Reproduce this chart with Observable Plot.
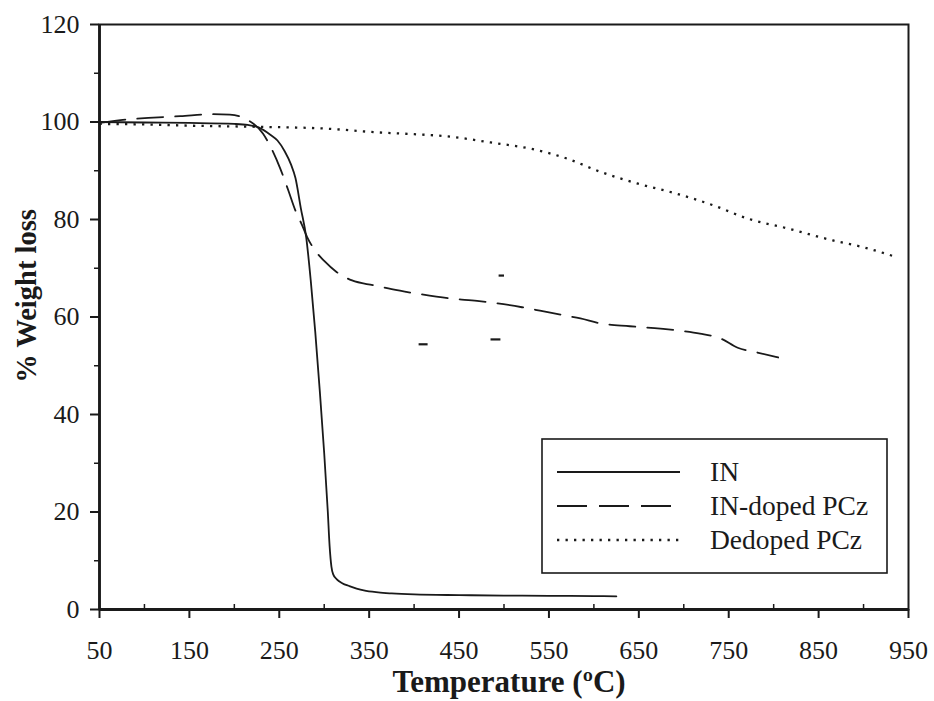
<!DOCTYPE html>
<html>
<head>
<meta charset="utf-8">
<script src="https://cdn.jsdelivr.net/npm/d3@7"></script>
<script src="https://cdn.jsdelivr.net/npm/@observablehq/plot@0.6"></script>
<style>
  html, body { margin: 0; padding: 0; background: white; }
  #chart { width: 934px; height: 701px; }
</style>
</head>
<body>
<div id="chart"></div>
<script>
// ---- Data ----
const inTemp = [50, 100, 150, 200, 215, 227, 240, 248, 256, 263, 268, 274, 280, 285, 290, 295, 300, 304, 306, 308, 310, 314, 320, 328, 336, 344, 360, 375, 400, 450, 500, 550, 600, 625];
const inWeight = [100, 99.9, 99.8, 99.6, 99.4, 98.9, 97.4, 96.2, 94, 91.3, 88.5, 82.3, 76.3, 67.5, 57, 45, 32, 20, 13, 8.8, 7.2, 6.2, 5.4, 4.8, 4.3, 3.9, 3.5, 3.3, 3.1, 2.95, 2.85, 2.8, 2.75, 2.7];

const dopedTemp = [50, 80, 110, 140, 175, 195, 215, 232, 242, 251, 260, 268, 275, 281, 290, 300, 314, 331, 355, 375, 403, 440, 470, 493, 520, 540, 565, 585, 607, 640, 674, 700, 718, 741, 760, 780, 805];
const dopedWeight = [99.8, 100.5, 100.9, 101.2, 101.6, 101.5, 100.4, 97.6, 94.3, 90.5, 86, 81.8, 79, 76.4, 73.6, 71.5, 69.2, 67.5, 66.5, 65.7, 64.8, 63.8, 63.3, 62.8, 62, 61.3, 60.4, 59.7, 58.7, 58.1, 57.6, 57.1, 56.6, 55.6, 53.7, 52.8, 51.7];

const dedopedTemp = [50, 100, 162, 230, 296, 366, 400, 440, 485, 530, 570, 607, 648, 688, 733, 771, 815, 866, 900, 938];
const dedopedWeight = [99.6, 99.5, 99.2, 99.0, 98.7, 97.8, 97.5, 97.0, 95.8, 94.5, 92.5, 89.8, 87.4, 85.5, 82.9, 80.2, 78.2, 75.7, 74.3, 72.2];

// small stray marks visible in the scan
const strayT1 = [494, 405, 485];
const strayT2 = [500, 415, 496];
const strayW = [68.5, 54.4, 55.4];

const seriesNames = ["IN", "IN-doped PCz", "Dedoped PCz"];
const xTicks = [50, 150, 250, 350, 450, 550, 650, 750, 850, 950];
const xMinorTicks = [100, 200, 300, 400, 500, 600, 700, 800, 900];
const yTicks = [0, 20, 40, 60, 80, 100, 120];
const yMinorTicks = [10, 30, 50, 70, 90, 110];
const xTitle = "Temperature (ºC)";
const yTitle = "% Weight loss";

// ---- Build tables ----
const toRows = (t, w) => t.map((d, i) => ({t: d, w: w[i]}));
const inRows = toRows(inTemp, inWeight);
const dopedRows = toRows(dopedTemp, dopedWeight);
const dedopedRows = toRows(dedopedTemp, dedopedWeight);
const strayRows = strayW.map((w, i) => ({t1: strayT1[i], t2: strayT2[i], w}));

const ink = "#1a1a1a";
const serif = "'Liberation Serif', 'Times New Roman', 'DejaVu Serif', serif";

const styles = [
  {strokeWidth: 1.8},
  {strokeWidth: 1.8, strokeDasharray: "26,12"},
  {strokeWidth: 2.3, strokeDasharray: "2.3,6.2"}
];

const plot = Plot.plot({
  width: 934,
  height: 701,
  marginLeft: 99,
  marginRight: 26,
  marginTop: 24,
  marginBottom: 92,
  style: {fontFamily: serif, background: "white", color: ink, overflow: "visible"},
  x: {domain: [50, 950]},
  y: {domain: [0, 120]},
  marks: [
    Plot.frame({stroke: ink, strokeWidth: 2}),
    Plot.ruleX([50], {stroke: ink, strokeWidth: 2.8}),
    Plot.ruleY([0], {stroke: ink, strokeWidth: 2.8}),
    Plot.axisX(xTicks, {tickSize: 9, tickPadding: 22, fontSize: 26, strokeWidth: 2, label: null, tickFormat: d => String(d)}),
    Plot.axisX(xMinorTicks, {tickSize: 5, dy: -5, strokeWidth: 1.5, label: null, tickFormat: () => ""}),
    Plot.axisY(yTicks, {tickSize: 9, tickPadding: 11, fontSize: 26, strokeWidth: 2, label: null, tickFormat: d => String(d)}),
    Plot.axisY(yMinorTicks, {tickSize: 5, strokeWidth: 1.5, label: null, tickFormat: () => ""}),
    Plot.line(inRows, {x: "t", y: "w", stroke: ink, curve: "monotone-x", ...styles[0]}),
    Plot.line(dopedRows, {x: "t", y: "w", stroke: ink, curve: "monotone-x", ...styles[1]}),
    Plot.line(dedopedRows, {x: "t", y: "w", stroke: ink, curve: "monotone-x", strokeLinecap: "butt", ...styles[2]}),
    Plot.link(strayRows, {x1: "t1", x2: "t2", y1: "w", y2: "w", stroke: ink, strokeWidth: 2.2}),
    Plot.text([xTitle], {text: d => d, frameAnchor: "bottom", textAnchor: "middle", lineAnchor: "middle", dx: 5, dy: 73, fontSize: 31, fontWeight: "bold", fill: ink}),
    Plot.text([yTitle], {text: d => d, frameAnchor: "left", textAnchor: "middle", lineAnchor: "middle", dx: -73, dy: -21, rotate: -90, fontSize: 28.5, fontWeight: "bold", fill: ink})
  ]
});

document.getElementById("chart").appendChild(plot);

const svg = d3.select(plot);
// make sure tick labels use the intended size
svg.selectAll('g[aria-label="x-axis tick label"], g[aria-label="y-axis tick label"]')
  .attr("font-size", 26).style("font-size", "26px");

// ---- Legend box inside the plot area ----
const g = svg.append("g").attr("font-family", serif).attr("text-anchor", "start");
g.append("rect")
  .attr("x", 542).attr("y", 439).attr("width", 345).attr("height", 134)
  .attr("fill", "white").attr("stroke", ink).attr("stroke-width", 1.6);
const rowY = [472, 506, 540];
seriesNames.forEach((name, i) => {
  const s = styles[i];
  g.append("line")
    .attr("x1", 557).attr("x2", 680).attr("y1", rowY[i]).attr("y2", rowY[i])
    .attr("stroke", ink).attr("stroke-width", s.strokeWidth)
    .attr("stroke-dasharray", i === 1 ? "30,12" : (s.strokeDasharray || null));
  g.append("text")
    .attr("x", 710).attr("y", rowY[i]).attr("dy", "0.34em")
    .attr("text-anchor", "start")
    .attr("font-size", 27.5).attr("fill", ink).text(name);
});
</script>
</body>
</html>
